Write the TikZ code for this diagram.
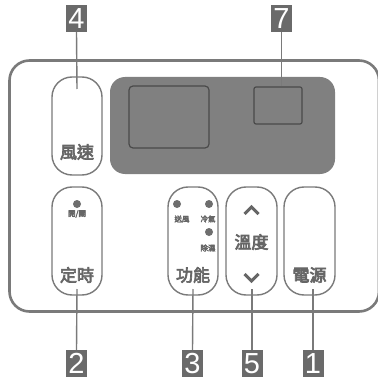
\documentclass[tikz,border=0pt]{standalone}
\usepackage{fontspec}
\setmainfont{Liberation Sans}
\newfontfamily\cjk{Noto Sans CJK TC}[FakeBold=4]
\definecolor{frame}{HTML}{7A7A7A}
\definecolor{panel}{HTML}{808080}
\definecolor{panelline}{HTML}{4A4A4A}
\definecolor{txt}{HTML}{666666}
\definecolor{tag}{HTML}{6A6A6A}
\definecolor{dot}{HTML}{6E6E6E}
\tikzset{
  x=1pt,y=-1pt,
  btn/.style={draw=frame,line width=1.4pt,rounded corners=20pt},
  tagbox/.style={fill=tag,minimum width=21pt,minimum height=27pt,inner sep=0pt,text=white,font=\fontsize{29}{29}\selectfont},
  lead/.style={draw=frame,line width=1.4pt},
  lbl/.style={text=txt,font=\cjk\fontsize{17}{17}\selectfont,inner sep=0pt},
  small/.style={text=txt,font=\cjk\fontsize{7.5}{7.5}\selectfont,inner sep=0pt},
  led/.style={circle,fill=dot,minimum size=8pt,inner sep=0pt},
  arrowmark/.style={draw=txt,line width=3pt},
}
\begin{document}
\begin{tikzpicture}
\useasboundingbox (0,0) rectangle (377,382);
\fill[white] (0,0) rectangle (377,382);
% outer frame
\draw[draw=frame,line width=2.6pt,rounded corners=20pt] (9.5,60.5) rectangle (379,311.5);
% display panel
\fill[panel,rounded corners=15pt] (110,77) rectangle (335,174);
\draw[panelline,line width=1.2pt,rounded corners=4pt] (129,86) rectangle (209,148);
\node[draw=panelline,line width=1.2pt,rounded corners=2pt,minimum width=48pt,minimum height=37pt,inner sep=0pt] (disp7) at (278,105.5) {};
% buttons
\draw[btn] (52,77) rectangle (102,175);
\node[lbl] (fan) at (77,152) {風速};
\coordinate (b4) at (77,89);
\draw[btn] (52,187) rectangle (102,295);
\node[lbl] (timer) at (77,275) {定時};
\node[led] (tled) at (77,204) {};
\node[small] (onoff) at (77,214) {開/關};
\coordinate (b2) at (77,289);
\draw[btn] (168,187) rectangle (218,295);
\node[lbl] (func) at (193,275) {功能};
\node[led] (l1) at (177,204) {};
\node[led] (l2) at (209,204) {};
\node[led] (l3) at (209,232) {};
\node[small] (fanmode) at (182,219) {送風};
\node[small] (cool) at (208,219) {冷氣};
\node[small] (dry) at (208,248) {除濕};
\coordinate (b3) at (193,289);
\draw[btn] (226,187) rectangle (277,295);
\node[lbl] (temp) at (251.5,242) {溫度};
\draw[arrowmark] (244.5,214) -- (251.5,207) -- (258.5,214);
\draw[arrowmark] (244.5,274) -- (251.5,281) -- (258.5,274);
\coordinate (b5) at (252,289);
\draw[btn] (284,187) rectangle (335,295);
\node[lbl] (power) at (309.5,275) {電源};
\coordinate (b1) at (313,289);
% tags
\node[tagbox] (t4) at (76.5,18.5) {4};
\node[tagbox] (t7) at (281.5,18.5) {7};
\node[tagbox] (t2) at (76.5,363.5) {2};
\node[tagbox] (t3) at (192.5,363.5) {3};
\node[tagbox] (t5) at (252,363.5) {5};
\node[tagbox] (t1) at (313,363.5) {1};
% leaders
\draw[lead] (t4.south) -- (b4);
\draw[lead] (t7.south) -- (disp7.north -| t7.south);
\draw[lead] (b2) -- (t2.north);
\draw[lead] (b3) -- (t3.north);
\draw[lead] (b5) -- (t5.north);
\draw[lead] (b1) -- (t1.north);
\end{tikzpicture}
\end{document}
